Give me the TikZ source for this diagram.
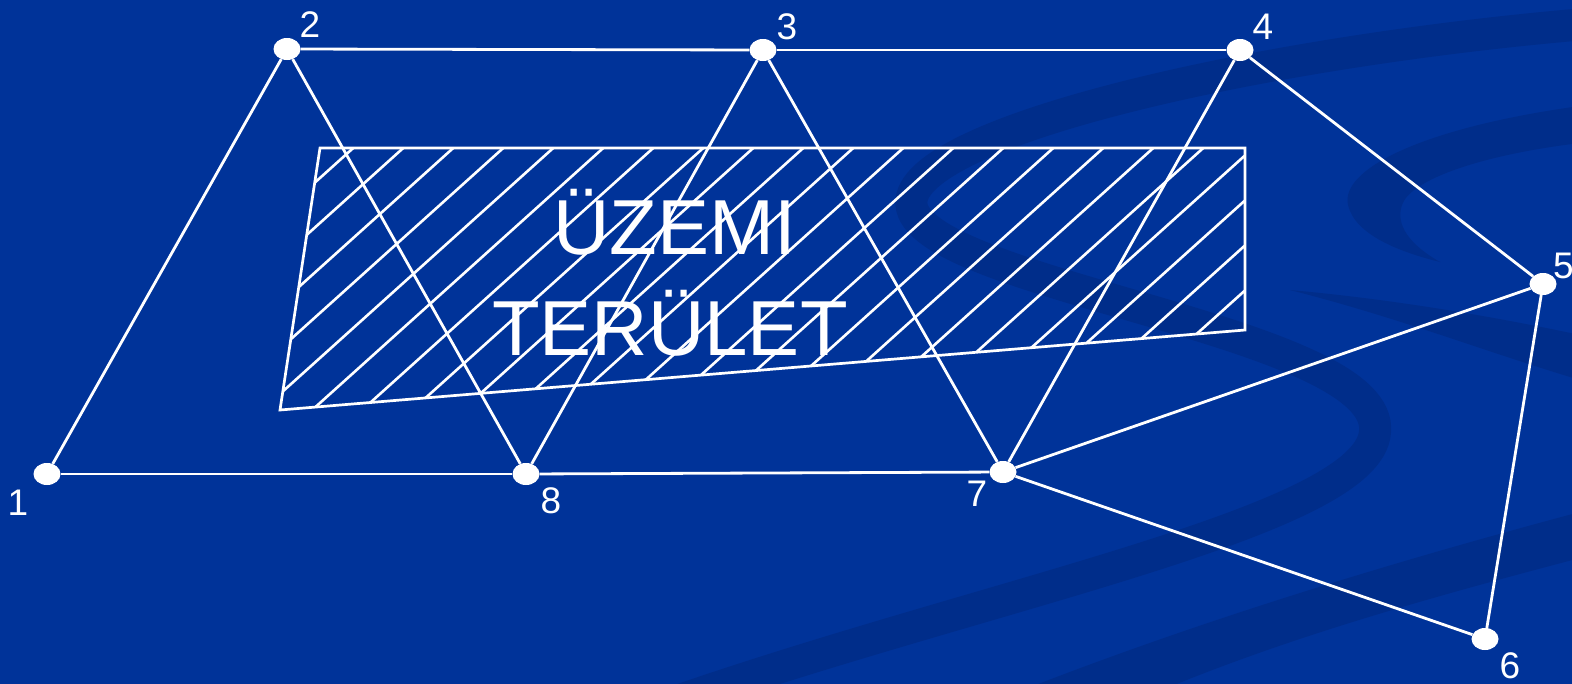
\documentclass[tikz,border=0pt]{standalone}
\usepackage{fontspec}
\setmainfont{Liberation Sans}
\usetikzlibrary{shapes.geometric}
\definecolor{bgblue}{RGB}{0,51,153}
\definecolor{swoosh}{RGB}{0,45,138}
\begin{document}
\begin{tikzpicture}[x=1pt,y=-1pt,
  vtx/.style={ellipse,fill=white,minimum width=27pt,minimum height=22pt,inner sep=0pt},
  conn/.style={draw=white,line width=2.8pt},
  hatchline/.style={draw=white,line width=2.6pt},
  areaoutline/.style={draw=white,line width=2.7pt,line join=miter},
  numlbl/.style={text=white,font=\fontsize{37}{40}\selectfont,inner sep=0pt,anchor=base},
  bigtext/.style={text=white,font=\fontsize{78}{90}\selectfont,inner sep=0pt,anchor=base},
  swooshband/.style={draw=swoosh,line width=32pt}]
\useasboundingbox (0,0) rectangle (1572,683);
% background
\fill[bgblue] (-6,-6) rectangle (1578,689);
\begin{scope}
  \clip (-6,-6) rectangle (1578,689);
  \draw[swooshband] (1610,22) .. controls (1250,50) and (870,140) .. (915,215)
        .. controls (960,290) and (1385,335) .. (1375,432)
        .. controls (1368,520) and (1000,590) .. (680,700);
  \fill[swoosh] (1010,695) .. controls (1200,620) and (1400,560) .. (1580,512)
        -- (1580,558) .. controls (1420,600) and (1280,640) .. (1150,695) -- cycle;
  \fill[swoosh] (1580,106) .. controls (1420,128) and (1340,170) .. (1348,205)
        .. controls (1355,235) and (1400,252) .. (1440,262)
        .. controls (1410,245) and (1395,225) .. (1402,205)
        .. controls (1410,180) and (1480,155) .. (1580,143) -- cycle;
  \fill[swoosh] (1290,290) .. controls (1400,300) and (1500,318) .. (1580,335)
        -- (1580,380) .. controls (1480,350) and (1400,318) .. (1290,290) -- cycle;
\end{scope}
% hatched area
\begin{scope}
  \clip (320,148) -- (1245,148) -- (1245,330) -- (280,410) -- cycle;
  \foreach \k in {0,...,21} {
    \pgfmathsetmacro{\cc}{517.7+50*\k}
    \draw[hatchline] ({\cc-111.1},100) -- ({\cc-500},450);
  }
\end{scope}
\draw[areaoutline] (320,148) -- (1245,148) -- (1245,330) -- (280,410) -- cycle;
\node[bigtext] (t1) at (675,254) {ÜZEMI};
\node[bigtext] (t2) at (670,355) {TERÜLET};
% vertices
\node[vtx] (n1) at (47,474) {};
\node[vtx] (n2) at (287,49) {};
\node[vtx] (n3) at (763,50) {};
\node[vtx] (n4) at (1240,50) {};
\node[vtx] (n5) at (1543,284) {};
\node[vtx] (n6) at (1485,639) {};
\node[vtx] (n7) at (1003,472) {};
\node[vtx] (n8) at (526,474) {};
% labels
\node[numlbl] (l1) at (18,515) {1};
\node[numlbl] (l2) at (310,37) {2};
\node[numlbl] (l3) at (787,39) {3};
\node[numlbl] (l4) at (1263,39) {4};
\node[numlbl,anchor=base west] (l5) at (1553,278) {5};
\node[numlbl] (l6) at (1510,678) {6};
\node[numlbl] (l7) at (977,506) {7};
\node[numlbl] (l8) at (551,513) {8};
% connectors
\draw[conn] (n1) -- (n2);
\draw[conn] (n2) -- (n3);
\draw[conn] (n3) -- (n4);
\draw[conn] (n4) -- (n5);
\draw[conn] (n5) -- (n6);
\draw[conn] (n6) -- (n7);
\draw[conn] (n7) -- (n5);
\draw[conn] (n1) -- (n8);
\draw[conn] (n8) -- (n7);
\draw[conn] (n2) -- (n8);
\draw[conn] (n3) -- (n8);
\draw[conn] (n3) -- (n7);
\draw[conn] (n4) -- (n7);
\end{tikzpicture}
\end{document}
